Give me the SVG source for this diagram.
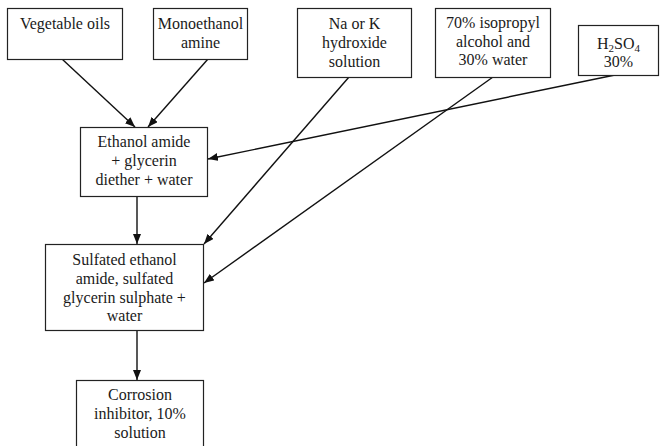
<svg xmlns="http://www.w3.org/2000/svg" width="660" height="446" viewBox="0 0 660 446">
<style>
.box{fill:#fff;stroke:#222;stroke-width:1.2}
.t{font-family:"Liberation Serif","Times New Roman",serif;font-size:16px;fill:#1a1a1a;text-anchor:middle}
.sub{font-size:11px}
.c{stroke:#111;stroke-width:1.4;fill:none;marker-end:url(#ah)}
</style>
<defs>
<marker id="ah" markerUnits="userSpaceOnUse" markerWidth="10" markerHeight="8" refX="10" refY="4" orient="auto">
<path d="M0,0 L10,4 L0,8 Z" fill="#111"/>
</marker>
</defs>
<rect width="660" height="446" fill="#fff"/>
<g id="connectors">
<line class="c" x1="62" y1="59" x2="135" y2="127"/>
<line class="c" x1="208" y1="59" x2="148" y2="127"/>
<line class="c" x1="615" y1="75" x2="208" y2="159"/>
<line class="c" x1="349" y1="77" x2="204" y2="244"/>
<line class="c" x1="493" y1="77" x2="204" y2="283"/>
<line class="c" x1="137" y1="196" x2="137" y2="244"/>
<line class="c" x1="137" y1="331" x2="137" y2="380"/>
</g>
<g id="vegetable-oils">
<rect class="box" x="7.5" y="8.5" width="115" height="51"/>
<text class="t" x="65" y="29">Vegetable oils</text>
</g>
<g id="monoethanol-amine">
<rect class="box" x="153.5" y="8.5" width="94" height="51"/>
<text class="t" x="200.5" y="29">Monoethanol</text>
<text class="t" x="200.5" y="48">amine</text>
</g>
<g id="hydroxide">
<rect class="box" x="297.5" y="8.5" width="114" height="69"/>
<text class="t" x="354.5" y="29">Na or K</text>
<text class="t" x="354.5" y="48">hydroxide</text>
<text class="t" x="354.5" y="67">solution</text>
</g>
<g id="isopropyl">
<rect class="box" x="435.5" y="8.5" width="115" height="69"/>
<text class="t" x="493" y="28">70% isopropyl</text>
<text class="t" x="493" y="46.5">alcohol and</text>
<text class="t" x="493" y="65">30% water</text>
</g>
<g id="h2so4">
<rect class="box" x="578.5" y="25.5" width="80" height="50"/>
<text class="t" x="618.5" y="49">H<tspan class="sub" dy="3">2</tspan><tspan dy="-3">SO</tspan><tspan class="sub" dy="3">4</tspan></text>
<text class="t" x="618.5" y="67">30%</text>
</g>
<g id="ethanol-amide">
<rect class="box" x="80.5" y="127.5" width="127" height="69"/>
<text class="t" x="144" y="147">Ethanol amide</text>
<text class="t" x="144" y="166">+ glycerin</text>
<text class="t" x="144" y="185">diether + water</text>
</g>
<g id="sulfated">
<rect class="box" x="45.5" y="244.5" width="158" height="86"/>
<text class="t" x="124.5" y="265">Sulfated ethanol</text>
<text class="t" x="124.5" y="284">amide, sulfated</text>
<text class="t" x="124.5" y="302.5">glycerin sulphate +</text>
<text class="t" x="124.5" y="321">water</text>
</g>
<g id="corrosion-inhibitor">
<rect class="box" x="76.5" y="380.5" width="127" height="70"/>
<text class="t" x="140" y="399.5">Corrosion</text>
<text class="t" x="140" y="419">inhibitor, 10%</text>
<text class="t" x="140" y="438">solution</text>
</g>
</svg>
